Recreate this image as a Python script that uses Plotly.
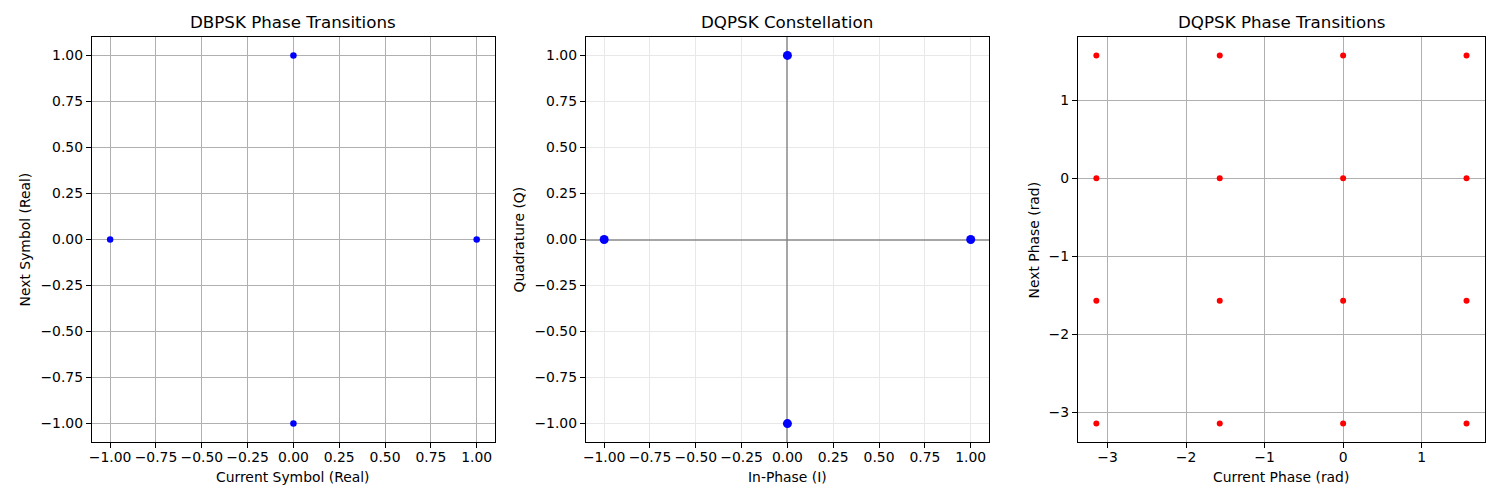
import numpy as np
import plotly.graph_objects as go

# ---- data ----
dbpsk_current = [0.0, -1.0, 1.0, 0.0]
dbpsk_next = [1.0, 0.0, 0.0, -1.0]

dqpsk_i = [1.0, 0.0, -1.0, 0.0]
dqpsk_q = [0.0, 1.0, 0.0, -1.0]

phase_levels = [-np.pi, -np.pi / 2, 0.0, np.pi / 2]
cur_phase = [a for a in phase_levels for b in phase_levels]
next_phase = [b for a in phase_levels for b in phase_levels]

titles = ["DBPSK Phase Transitions", "DQPSK Constellation", "DQPSK Phase Transitions"]
xlabels = ["Current Symbol (Real)", "In-Phase (I)", "Current Phase (rad)"]
ylabels = ["Next Symbol (Real)", "Quadrature (Q)", "Next Phase (rad)"]

sym_ticks = [-1.0, -0.75, -0.5, -0.25, 0.0, 0.25, 0.5, 0.75, 1.0]
phase_ticks = [-3, -2, -1, 0, 1]

W, H = 1500, 500
FONT = "DejaVu Sans"
TICK = 13.9
LABEL = 13.9
TITLE = 16.7

# axes pixel boxes (left, right), shared top/bottom
boxes = [(89, 493), (584, 988), (1077, 1485)]
top, bottom = 37, 442

fig = go.Figure()

fig.add_trace(go.Scatter(x=dbpsk_current, y=dbpsk_next, mode="markers",
                         marker=dict(color="#0000ff", size=6.5, line=dict(width=0)),
                         xaxis="x", yaxis="y", showlegend=False))
fig.add_trace(go.Scatter(x=dqpsk_i, y=dqpsk_q, mode="markers",
                         marker=dict(color="#0000ff", size=9, line=dict(width=0)),
                         xaxis="x2", yaxis="y2", showlegend=False))
fig.add_trace(go.Scatter(x=cur_phase, y=next_phase, mode="markers",
                         marker=dict(color="#ff0000", size=6, line=dict(width=0)),
                         xaxis="x3", yaxis="y3", showlegend=False))

def axis_common(grid_color):
    return dict(showline=True, linecolor="black", linewidth=1, mirror=True,
                ticks="outside", ticklen=5, tickwidth=1, tickcolor="black",
                showgrid=True, gridcolor=grid_color, gridwidth=1,
                zeroline=False,
                tickfont=dict(family=FONT, size=TICK, color="black"))

prange = [-np.pi - 0.2356, np.pi / 2 + 0.2356]

layout = dict(width=W, height=H, margin=dict(l=0, r=0, t=0, b=0),
              paper_bgcolor="white", plot_bgcolor="white",
              font=dict(family=FONT, color="black"))

specs = [
    dict(rng=[-1.1, 1.1], ticks=sym_ticks, fmt=".2f", grid="#b0b0b0"),
    dict(rng=[-1.1, 1.1], ticks=sym_ticks, fmt=".2f", grid="#e8e8e8"),
    dict(rng=prange, ticks=phase_ticks, fmt="d", grid="#b0b0b0"),
]

ydom = [1 - bottom / H, 1 - top / H]
for i, ((l, r), sp) in enumerate(zip(boxes, specs)):
    sfx = "" if i == 0 else str(i + 1)
    xa = axis_common(sp["grid"])
    xa.update(domain=[l / W, r / W], range=sp["rng"], tickvals=sp["ticks"],
              tickformat=sp["fmt"], anchor="y" + sfx, ticklabelstandoff=-3)
    ya = axis_common(sp["grid"])
    ya.update(domain=ydom, range=sp["rng"], tickvals=sp["ticks"],
              tickformat=sp["fmt"], anchor="x" + sfx)
    if i == 1:
        xa.update(zeroline=True, zerolinecolor="rgba(128,128,128,0.7)", zerolinewidth=1.5)
        ya.update(zeroline=True, zerolinecolor="rgba(128,128,128,0.7)", zerolinewidth=1.5)
    layout["xaxis" + sfx] = xa
    layout["yaxis" + sfx] = ya

fig.update_layout(**layout)

ylab_x = [22, 517, 1033]
for i, (l, r) in enumerate(boxes):
    cx = (l + r) / 2 / W
    fig.add_annotation(x=cx, y=1 - 22 / H, xref="paper", yref="paper",
                       text=titles[i], showarrow=False, xanchor="center", yanchor="middle",
                       font=dict(family=FONT, size=TITLE, color="black"))
    fig.add_annotation(x=cx, y=1 - 477 / H, xref="paper", yref="paper",
                       text=xlabels[i], showarrow=False, xanchor="center", yanchor="middle",
                       font=dict(family=FONT, size=LABEL, color="black"))
    fig.add_annotation(x=ylab_x[i] / W, y=1 - (top + bottom) / 2 / H, xref="paper", yref="paper",
                       text=ylabels[i], showarrow=False, xanchor="center", yanchor="middle",
                       textangle=-90,
                       font=dict(family=FONT, size=LABEL, color="black"))

fig.write_html("out.html")
